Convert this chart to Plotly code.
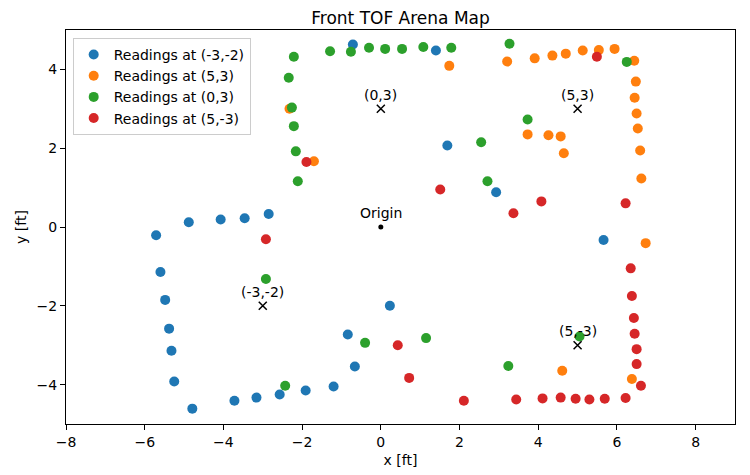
import plotly.graph_objects as go

# Readings at (-3,-2)
blue_x = [-0.71, 1.40, 1.69, 2.93, 5.66, -2.85, -3.46, -4.07, -4.88, -5.71, -5.60, -5.48,
          -5.38, -5.32, -5.25, -4.79, -3.72, -3.16, -2.57, -1.91, -1.20, -0.66, -0.84, 0.23]
blue_y = [4.63, 4.48, 2.07, 0.88, -0.33, 0.33, 0.22, 0.19, 0.12, -0.21, -1.14, -1.85,
          -2.58, -3.14, -3.92, -4.61, -4.41, -4.33, -4.25, -4.15, -4.05, -3.54, -2.73, -2.00]

# Readings at (5,3)
orange_x = [-2.32, -1.70, 1.74, 3.21, 3.91, 4.36, 4.70, 5.13, 5.54, 5.94, 6.44, 6.48,
            6.45, 6.50, 6.53, 6.59, 6.62, 6.73, 3.73, 4.26, 4.57, 4.65, 4.61, 6.38]
orange_y = [3.00, 1.67, 4.09, 4.20, 4.28, 4.35, 4.40, 4.48, 4.49, 4.52, 4.22, 3.69,
            3.28, 2.88, 2.50, 1.94, 1.23, -0.41, 2.35, 2.33, 2.30, 1.87, -3.65, -3.86]

# Readings at (0,3)
green_x = [-2.21, -1.29, -0.76, -0.30, 0.11, 0.54, 1.08, 1.79, 3.27, 6.25, -2.34, -2.26,
           -2.21, -2.16, -2.11, 2.55, 2.71, 3.73, -2.92, -2.43, -0.40, 1.15, 3.24, 5.05]
green_y = [4.32, 4.46, 4.45, 4.55, 4.52, 4.52, 4.57, 4.55, 4.65, 4.19, 3.79, 3.03,
           2.56, 1.92, 1.16, 2.15, 1.16, 2.73, -1.32, -4.03, -2.94, -2.82, -3.53, -2.78]

# Readings at (5,-3)
red_x = [-1.89, -2.92, 1.51, 3.37, 4.08, 6.22, 5.49, 6.35, 6.38, 6.43, 6.45, 6.50,
         6.50, 6.61, 6.22, 5.69, 5.30, 4.95, 4.57, 4.11, 3.44, 2.11, 0.72, 0.43]
red_y = [1.65, -0.31, 0.95, 0.35, 0.65, 0.60, 4.32, -1.05, -1.75, -2.31, -2.71, -3.10,
         -3.48, -4.03, -4.34, -4.36, -4.38, -4.36, -4.33, -4.35, -4.38, -4.41, -3.83, -3.00]

series_names = ["Readings at (-3,-2)", "Readings at (5,3)", "Readings at (0,3)", "Readings at (5,-3)"]
series_colors = ["#1f77b4", "#ff7f0e", "#2ca02c", "#d62728"]

target_x = [0, 5, -3, 5]
target_y = [3, 3, -2, -3]
target_labels = ["(0,3)", "(5,3)", "(-3,-2)", "(5,-3)"]

origin_x = [0]
origin_y = [0]

x_ticks = [-8, -6, -4, -2, 0, 2, 4, 6, 8]
y_ticks = [-4, -2, 0, 2, 4]

def fmt(v):
    return ("\u2212" + str(abs(v))) if v < 0 else str(v)

font = "DejaVu Sans, sans-serif"

fig = go.Figure()
for name, color, xs, ys in zip(series_names, series_colors,
                               [blue_x, orange_x, green_x, red_x],
                               [blue_y, orange_y, green_y, red_y]):
    fig.add_trace(go.Scatter(x=xs, y=ys, mode="markers", name=name,
                             marker=dict(color=color, size=10, line=dict(width=0))))

fig.add_trace(go.Scatter(x=target_x, y=target_y, mode="markers", showlegend=False,
                         marker=dict(symbol="x-thin", size=8, color="black",
                                     line=dict(width=1.5, color="black"))))
fig.add_trace(go.Scatter(x=origin_x, y=origin_y, mode="markers", showlegend=False,
                         marker=dict(color="black", size=5)))

for tx, ty, tl in zip(target_x, target_y, target_labels):
    fig.add_annotation(x=tx, y=ty, text=tl, showarrow=False, yanchor="middle",
                       yshift=14, font=dict(size=14, color="black", family=font))
fig.add_annotation(x=origin_x[0], y=origin_y[0], text="Origin", showarrow=False,
                   yanchor="middle", yshift=14, font=dict(size=14, color="black", family=font))

axis_common = dict(showgrid=False, zeroline=False, showline=True, linecolor="black",
                   linewidth=1, mirror=True, ticks="outside", ticklen=5, tickcolor="black",
                   tickfont=dict(size=14, color="black", family=font), automargin=False)

fig.update_layout(
    width=750, height=475,
    margin=dict(l=66, r=15, t=30, b=51),
    paper_bgcolor="white", plot_bgcolor="white",
    font=dict(family=font, size=14, color="black"),
    title=dict(text="Front TOF Arena Map", x=0.534, xanchor="center", y=0.963, yanchor="middle",
               font=dict(size=17, color="black", family=font)),
    xaxis=dict(range=[-8, 9], tickvals=x_ticks, ticktext=[fmt(v) for v in x_ticks],
               title=dict(text="x [ft]", standoff=6, font=dict(size=14)), **axis_common),
    yaxis=dict(range=[-5, 5], tickvals=y_ticks, ticktext=[fmt(v) for v in y_ticks],
               title=dict(text="y [ft]", standoff=6, font=dict(size=14)), **axis_common),
    legend=dict(x=0.01, y=0.98, xanchor="left", yanchor="top", bgcolor="rgba(255,255,255,0.8)",
                bordercolor="#cccccc", borderwidth=1, font=dict(size=14, family=font)),
    showlegend=True,
)

fig.write_html("out.html", config={"displayModeBar": False},
               post_script="document.body.style.margin='0px';")
